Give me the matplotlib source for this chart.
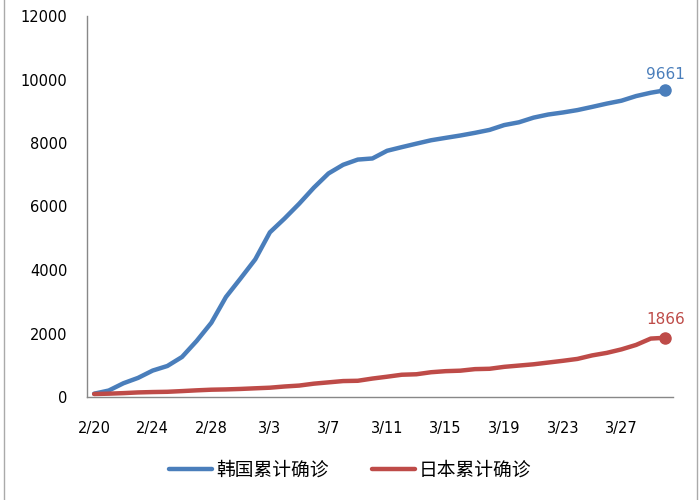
import matplotlib
matplotlib.use("Agg")
import matplotlib.pyplot as plt
from matplotlib.lines import Line2D

plt.rcParams['font.family'] = ['DejaVu Sans', 'Noto Sans CJK SC']

# 日期 2/20 - 3/30
dates = ['2/20', '2/21', '2/22', '2/23', '2/24', '2/25', '2/26', '2/27', '2/28', '2/29',
         '3/1', '3/2', '3/3', '3/4', '3/5', '3/6', '3/7', '3/8', '3/9', '3/10',
         '3/11', '3/12', '3/13', '3/14', '3/15', '3/16', '3/17', '3/18', '3/19', '3/20',
         '3/21', '3/22', '3/23', '3/24', '3/25', '3/26', '3/27', '3/28', '3/29', '3/30']

korea = [104, 204, 433, 602, 833, 977, 1261, 1766, 2337, 3150,
         3736, 4335, 5186, 5621, 6088, 6593, 7041, 7314, 7478, 7513,
         7755, 7869, 7979, 8086, 8162, 8236, 8320, 8413, 8565, 8652,
         8799, 8897, 8961, 9037, 9137, 9241, 9332, 9478, 9583, 9661]

japan = [94, 105, 122, 144, 156, 164, 186, 210, 230, 239,
         254, 274, 293, 331, 360, 420, 461, 502, 511, 581,
         639, 701, 716, 780, 814, 829, 878, 889, 950, 990,
         1030, 1085, 1140, 1200, 1310, 1390, 1500, 1640, 1840, 1866]

tick_labels = ['2/20', '2/24', '2/28', '3/3', '3/7', '3/11', '3/15', '3/19', '3/23', '3/27']

blue = '#4A7EBB'
red = '#BE4B48'

fig = plt.figure(figsize=(7, 5), dpi=100)
ax = fig.add_axes([0.124, 0.206, 0.837, 0.762])

x = list(range(len(dates)))
ax.plot(x, korea, color=blue, lw=3.2, label='韩国累计确诊', solid_capstyle='round')
ax.plot(x, japan, color=red, lw=3.2, label='日本累计确诊', solid_capstyle='round')
ax.plot(x[-1], korea[-1], 'o', color=blue, ms=8)
ax.plot(x[-1], japan[-1], 'o', color=red, ms=8)
ax.annotate(str(korea[-1]), (x[-1], korea[-1]), xytext=(0, 6), textcoords='offset points',
            ha='center', va='bottom', color=blue, fontsize=11)
ax.annotate(str(japan[-1]), (x[-1], japan[-1]), xytext=(0, 8), textcoords='offset points',
            ha='center', va='bottom', color=red, fontsize=11)

ax.set_xlim(-0.5, len(dates) - 0.5)
ax.set_ylim(0, 12000)
ax.set_yticks(range(0, 12001, 2000))
ax.set_xticks([dates.index(t) for t in tick_labels])
ax.set_xticklabels(tick_labels)
ax.tick_params(axis='both', length=0, labelsize=10.5)
ax.tick_params(axis='y', pad=14)
ax.tick_params(axis='x', pad=17)

for s in ['top', 'right']:
    ax.spines[s].set_visible(False)
for s in ['left', 'bottom']:
    ax.spines[s].set_color('#888888')
    ax.spines[s].set_linewidth(1)

leg = fig.legend(loc='center', bbox_to_anchor=(0.5, 0.06), ncol=2, frameon=False,
                 prop={'family': ['Noto Sans CJK SC'], 'size': 13.5},
                 handlelength=2.3, handletextpad=0.2, columnspacing=2.3)

# 外框
fig.add_artist(Line2D([0.005, 0.005], [0, 1], color='#aaaaaa', lw=1))
fig.add_artist(Line2D([0.996, 0.996], [0, 1], color='#aaaaaa', lw=1))

fig.savefig('out.png', dpi=100)
